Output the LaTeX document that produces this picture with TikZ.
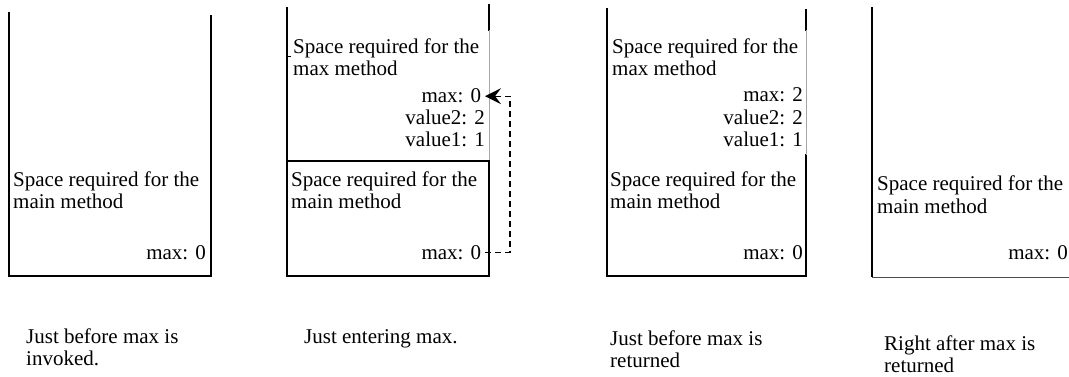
\documentclass[tikz,border=0pt]{standalone}
\usepackage{fontspec}
\setmainfont{Liberation Serif}
\usetikzlibrary{arrows.meta}
\begin{document}
\begin{tikzpicture}[x=1pt,y=-1pt,
  txt/.style={inner sep=0pt,font=\fontsize{21}{22}\selectfont,anchor=base west},
  rtxt/.style={txt,anchor=base east},
  wall/.style={line width=1.4pt,line cap=rect},
  faint/.style={line width=0.6pt,black!35},
  flow/.style={dashed,dash pattern=on 6pt off 4pt,line width=1.3pt,-{Stealth[length=16pt,width=16pt,inset=6pt]}}]
\useasboundingbox (0,0) rectangle (1069,377);

% stack 1
\draw[wall] (9,13) -- (9,276) -- (211,276) -- (211,16);
\node[txt] (s1a) at (13,186) {Space required for the};
\node[txt] (s1b) at (13,208) {main method};
\node[rtxt] (s1m) at (206,259) {max: 0};

% stack 2
\draw[wall] (287,8) -- (287,276) -- (489,276) -- (489,161);
\draw[wall] (489,5) -- (489,30);
\draw[faint] (489,30) -- (489,161);
\draw[wall] (287,161) -- (489,161);
\draw[line width=1pt] (287,57) -- (291,57);
\node[txt] (s2a) at (293,54) {Space required for the};
\node[txt] (s2b) at (293,76) {max method};
\node[rtxt,outer xsep=4pt] (m2t) at (485,103) {max: 0};
\node[rtxt] (v22) at (485,125) {value2: 2};
\node[rtxt] (v21) at (485,147) {value1: 1};
\node[txt] (s2c) at (291,186) {Space required for the};
\node[txt] (s2d) at (291,208) {main method};
\node[rtxt,outer xsep=4pt] (m2b) at (485,259) {max: 0};
\draw[flow] (m2b.east) -- ++(25,0) |- (m2t.east);

% stack 3
\draw[wall] (607,9) -- (607,276) -- (806,276) -- (806,155);
\draw[wall] (806,10) -- (806,30);
\draw[faint] (806,30) -- (806,155);
\node[txt] (s3a) at (612,54) {Space required for the};
\node[txt] (s3b) at (612,76) {max method};
\node[rtxt] (m3t) at (803,102) {max: 2};
\node[rtxt] (v32) at (803,125) {value2: 2};
\node[rtxt] (v31) at (803,147) {value1: 1};
\node[txt] (s3c) at (610,186) {Space required for the};
\node[txt] (s3d) at (610,208) {main method};
\node[rtxt] (m3b) at (803,259) {max: 0};

% stack 4
\draw[wall] (872,8) -- (872,276);
\draw[line width=1pt,black!70] (872,277) -- (1069,277);
\node[txt] (s4a) at (877,191) {Space required for the};
\node[txt] (s4b) at (877,213) {main method};
\node[rtxt] (m4) at (1068,259) {max: 0};

% captions
\node[txt] (c1a) at (26,343) {Just before max is};
\node[txt] (c1b) at (26,365) {invoked.};
\node[txt] (c2a) at (304,343) {Just entering max.};
\node[txt] (c3a) at (610,345) {Just before max is};
\node[txt] (c3b) at (610,367) {returned};
\node[txt] (c4a) at (884,350) {Right after max is};
\node[txt] (c4b) at (884,372) {returned};
\end{tikzpicture}
\end{document}
